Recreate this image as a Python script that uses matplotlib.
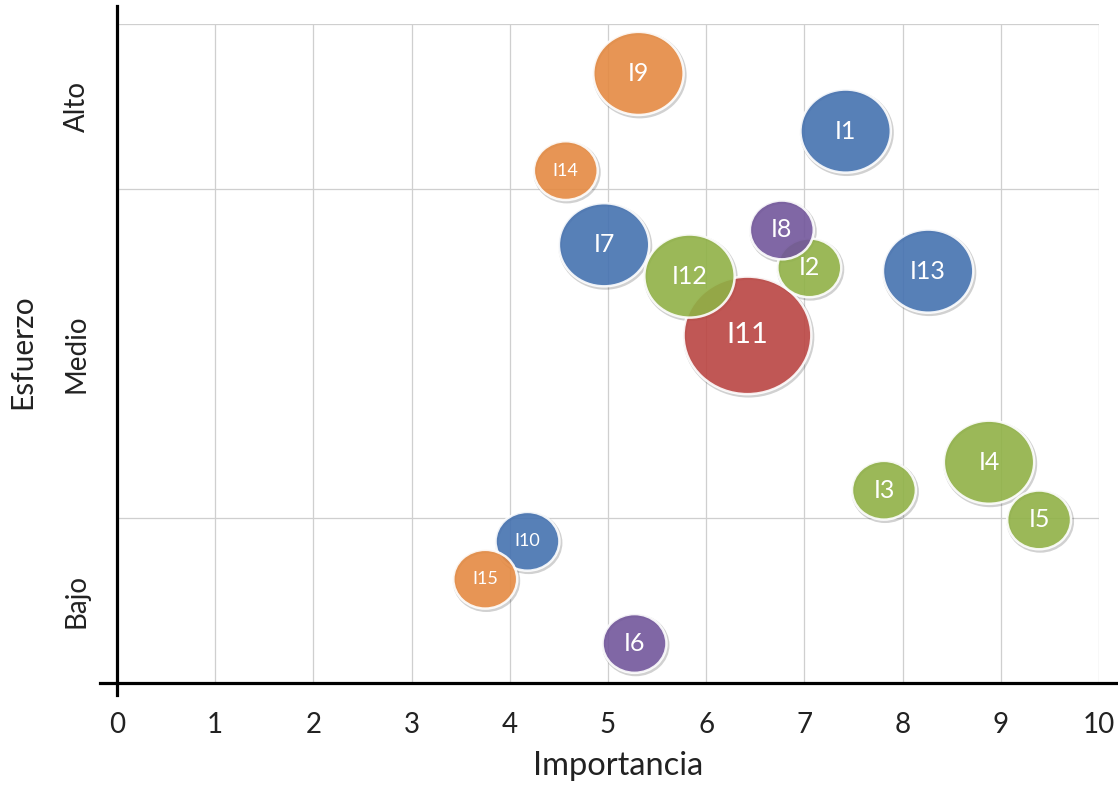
import numpy as np
import matplotlib
matplotlib.use("Agg")
import matplotlib.pyplot as plt
from matplotlib.path import Path
from matplotlib.transforms import Affine2D, offset_copy
from matplotlib.ticker import FixedLocator

plt.rcParams['font.family'] = ['Lato', 'DejaVu Sans']

# Iniciativas: importancia (x), esfuerzo (y), tamaño de burbuja y grupo
nombres = ["I1", "I2", "I3", "I4", "I5", "I6", "I7", "I8", "I9", "I10",
           "I11", "I12", "I13", "I14", "I15"]
importancia = [7.42, 7.05, 7.81, 8.88, 9.39, 5.27, 4.96, 6.77, 5.31, 4.18,
               6.42, 5.83, 8.26, 4.57, 3.75]
esfuerzo = [3.35, 2.52, 1.17, 1.34, 0.99, 0.24, 2.66, 2.75, 3.70, 0.86,
            2.11, 2.47, 2.50, 3.11, 0.63]
tamano = [2, 1, 1, 2, 1, 1, 2, 1, 2, 1, 4, 2, 2, 1, 1]
grupo = ["azul", "verde", "verde", "verde", "verde", "morado", "azul", "morado",
         "naranja", "azul", "rojo", "verde", "azul", "naranja", "naranja"]

x_ticks = list(range(0, 11))
y_tick_pos = [0.5, 2, 3.5]
y_tick_labels = ["Bajo", "Medio", "Alto"]

colores = {"azul": "#4572B0", "verde": "#90B146", "morado": "#72569B",
           "naranja": "#E58A42", "rojo": "#BA4542"}

fig = plt.figure(figsize=(11.18, 7.85), dpi=100)
ax = fig.add_axes([117 / 1118, 1 - 683 / 785, 982 / 1118, 659 / 785])
ax.set_xlim(0, 10)
ax.set_ylim(0, 4)

# Rejilla
ax.set_xticks(x_ticks)
ax.yaxis.set_minor_locator(FixedLocator([1, 2, 3, 4]))
ax.set_yticks(y_tick_pos)
ax.set_yticklabels(y_tick_labels, rotation=90, va="center")
ax.grid(True, axis="x", which="major", color="#cfcfcf", linewidth=0.9)
ax.grid(True, axis="y", which="minor", color="#cfcfcf", linewidth=0.9)
ax.grid(False, axis="y", which="major")
ax.set_axisbelow(True)
ax.tick_params(axis="both", which="both", length=0)
ax.tick_params(axis="x", labelsize=20, pad=21, colors="#222222")
ax.tick_params(axis="y", labelsize=20, pad=19.5, colors="#222222")

# Ejes negros que se cruzan en el origen
for side in ("top", "right"):
    ax.spines[side].set_visible(False)
ax.spines["left"].set_linewidth(2.3)
ax.spines["bottom"].set_linewidth(2.3)
ax.spines["left"].set_bounds(-0.073, 4.107)
ax.spines["bottom"].set_bounds(-0.173, 10.19)
for s in ("left", "bottom"):
    ax.spines[s].set_zorder(5)

ax.set_xlabel("Importancia", fontsize=23.5, color="#222222", va="center")
ax.xaxis.set_label_coords(0.510, -0.126)
ax.set_ylabel("Esfuerzo", fontsize=21.5, color="#222222", va="center")
ax.yaxis.set_label_coords(-0.0967, 0.502)

# Marcador elíptico para las burbujas
elipse = Path.unit_circle().transformed(Affine2D().scale(1.0, 0.92))
BASE = 46.0 ** 2

orden = sorted(range(len(nombres)), key=lambda i: -tamano[i])
xs = np.array(importancia)[orden]
ys = np.array(esfuerzo)[orden]
ss = np.array(tamano, dtype=float)[orden] * BASE
cs = [colores[grupo[i]] for i in orden]

sombra = offset_copy(ax.transData, fig=fig, x=1.2, y=-1.6, units="dots")
ax.scatter(xs, ys, s=ss, marker=elipse, facecolors="none",
           edgecolors="#000000", alpha=0.18, linewidths=2.6,
           transform=sombra, zorder=2, clip_on=False)
ax.scatter(xs, ys, s=ss, marker=elipse, c=cs, alpha=0.9,
           edgecolors="white", linewidths=1.8, zorder=3, clip_on=False)

for i, nombre in enumerate(nombres):
    if tamano[i] >= 4:
        fs = 21
    elif tamano[i] == 1 and len(nombre) > 2:
        fs = 13
    else:
        fs = 18
    ax.text(importancia[i], esfuerzo[i], nombre, color="white", fontsize=fs,
            ha="center", va="center", zorder=4)

fig.savefig("out.png", dpi=100)
